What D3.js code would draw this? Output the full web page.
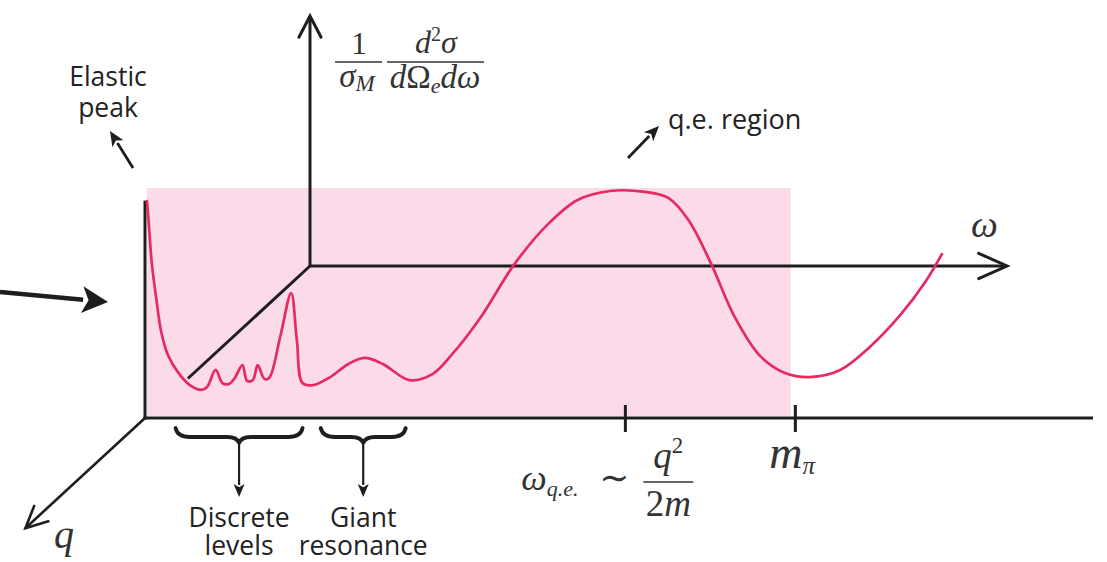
<!DOCTYPE html>
<html>
<head>
<meta charset="utf-8">
<script src="https://cdn.jsdelivr.net/npm/d3@7"></script>
<style>
  html, body { margin: 0; padding: 0; background: #fff; }
  svg { display: block; }
  .sans { font-family: "Open Sans", "Liberation Sans", sans-serif; fill: #222; }
  .math { font-family: "Liberation Serif", "DejaVu Serif", serif; fill: #333; }
</style>
</head>
<body>
<svg id="chart" width="1107" height="562"></svg>
<script>
// Energy transfer ω (arbitrary units) and the inclusive response
// (1/σM) d²σ/dΩe dω at fixed momentum transfer q (arbitrary units)
const omega = [
  0.2, 0.4, 0.7, 1.2, 1.7, 2.4, 3.5, 4.7, 5.9, 6.5,
  7.4, 8.1, 8.8, 9.4, 10.2, 10.7, 11.3, 11.8, 12.5, 13.0,
  14.2, 15.3, 15.9, 16.5, 17.6, 19.4, 21.3, 23.0, 24.9, 27.7,
  30.1, 32.1, 35.1, 38.7, 42.2, 45.3, 48.7, 52.4, 54.8, 56.9,
  59.2, 61.8, 64.4, 67.0, 69.6, 72.8, 75.9, 79.1, 81.7, 83.5
];
const response = [
  94.8, 84.3, 67.8, 51.3, 37.4, 27.4, 19.6, 14.3, 12.2, 13.5,
  20.9, 15.2, 14.8, 17.4, 23.0, 16.1, 16.5, 23.0, 17.0, 17.4,
  36.1, 54.3, 33.9, 15.2, 14.3, 17.8, 23.5, 26.1, 23.5, 16.5,
  19.1, 27.4, 43.5, 67.0, 84.3, 94.8, 98.7, 98.3, 95.7, 86.1,
  67.8, 43.5, 27.0, 19.6, 17.8, 20.9, 30.9, 44.8, 59.1, 71.7
];

// Shaded quasi-elastic band along ω
const bandRange = [0.2, 67.6];

// Marked energies on the ω axis: ω_q.e. ~ q²/2m and the pion mass
const tickValues = [50.3, 68.1];

// Braced low-energy regions
const regionNames = [["Discrete", "levels"], ["Giant", "resonance"]];
const regionFrom = [3.2, 18.4];
const regionTo = [16.5, 27.3];

const svg = d3.select("#chart");
const ink = "#1e1e1e";
const curveColor = "#e62a62";

const x = d3.scaleLinear().domain([0, 100]).range([145, 1100]);
const y = d3.scaleLinear().domain([0, 100]).range([418, 188]);

// depth direction of the pseudo-3D frame (towards the back wall)
const depth = { dx: 165, dy: -152 };
const origin = { x: x(0), y: y(0) };
const back = { x: origin.x + depth.dx, y: origin.y + depth.dy };

function openHead(g, tip, angle, len, spread, width) {
  const a1 = angle + Math.PI - spread, a2 = angle + Math.PI + spread;
  g.append("path")
    .attr("d", `M${tip.x + len * Math.cos(a1)},${tip.y + len * Math.sin(a1)}L${tip.x},${tip.y}L${tip.x + len * Math.cos(a2)},${tip.y + len * Math.sin(a2)}`)
    .attr("fill", "none").attr("stroke", ink).attr("stroke-width", width)
    .attr("stroke-linejoin", "miter").attr("stroke-linecap", "round");
}

function arrow(g, from, to, width, headLen, headHalf) {
  const ang = Math.atan2(to.y - from.y, to.x - from.x);
  const bx = to.x - headLen * Math.cos(ang), by = to.y - headLen * Math.sin(ang);
  g.append("line")
    .attr("x1", from.x).attr("y1", from.y).attr("x2", bx + Math.cos(ang)).attr("y2", by + Math.sin(ang))
    .attr("stroke", ink).attr("stroke-width", width);
  const nx = -Math.sin(ang), ny = Math.cos(ang);
  g.append("path")
    .attr("d", `M${to.x},${to.y}L${bx + nx * headHalf},${by + ny * headHalf}L${bx + 0.25 * headLen * Math.cos(ang)},${by + 0.25 * headLen * Math.sin(ang)}L${bx - nx * headHalf},${by - ny * headHalf}Z`)
    .attr("fill", ink);
}

// shaded band
svg.append("rect")
  .attr("x", x(bandRange[0])).attr("y", y(100))
  .attr("width", x(bandRange[1]) - x(bandRange[0]))
  .attr("height", y(0) - y(100) - 2)
  .attr("fill", "#fbdaea");

const frame = svg.append("g");

// back wall axes
frame.append("line")
  .attr("x1", back.x).attr("y1", back.y).attr("x2", back.x).attr("y2", 16)
  .attr("stroke", ink).attr("stroke-width", 3);
openHead(frame, { x: back.x, y: 16 }, -Math.PI / 2, 24, 0.48, 3);

frame.append("line")
  .attr("x1", back.x).attr("y1", back.y).attr("x2", 1007).attr("y2", back.y)
  .attr("stroke", ink).attr("stroke-width", 3);
openHead(frame, { x: 1007, y: back.y }, 0, 31, 0.42, 3);

// depth line from the back corner towards the front origin
const tDiag = 0.74;
frame.append("line")
  .attr("x1", back.x).attr("y1", back.y)
  .attr("x2", back.x - tDiag * depth.dx).attr("y2", back.y - tDiag * depth.dy)
  .attr("stroke", ink).attr("stroke-width", 3);

// front axes
frame.append("line")
  .attr("x1", origin.x).attr("y1", origin.y + 1.5).attr("x2", origin.x).attr("y2", y(94.5))
  .attr("stroke", ink).attr("stroke-width", 3);
frame.append("line")
  .attr("x1", origin.x - 1.5).attr("y1", origin.y).attr("x2", 1093).attr("y2", origin.y)
  .attr("stroke", ink).attr("stroke-width", 3);

// q axis
const qTip = { x: origin.x - 0.725 * depth.dx, y: origin.y - 0.725 * depth.dy };
frame.append("line")
  .attr("x1", origin.x).attr("y1", origin.y).attr("x2", qTip.x).attr("y2", qTip.y)
  .attr("stroke", ink).attr("stroke-width", 2.6);
openHead(frame, qTip, Math.atan2(-depth.dy, -depth.dx), 24, 0.45, 2.6);

// ticks on the ω axis
frame.selectAll("line.tick").data(tickValues).join("line")
  .attr("class", "tick")
  .attr("x1", d => x(d)).attr("x2", d => x(d))
  .attr("y1", origin.y - 13).attr("y2", origin.y + 14)
  .attr("stroke", ink).attr("stroke-width", 3);

// response curve
const line = d3.line()
  .x(d => x(d[0])).y(d => y(d[1]))
  .curve(d3.curveCatmullRom.alpha(0.5));
svg.append("path")
  .datum(omega.map((w, i) => [w, response[i]]))
  .attr("d", line)
  .attr("fill", "none")
  .attr("stroke", curveColor)
  .attr("stroke-width", 2.7)
  .attr("stroke-linejoin", "round");

// braces under the low-energy regions
const ann = svg.append("g");
function brace(x1, x2, yTop, h) {
  const m = (x1 + x2) / 2, yMid = yTop + h * 0.6, yTip = yTop + h;
  return `M${x1},${yTop}` +
    `Q${x1 + 2},${yMid} ${x1 + 14},${yMid}` +
    `L${m - 12},${yMid}` +
    `Q${m - 2},${yMid} ${m},${yTip}` +
    `Q${m + 2},${yMid} ${m + 12},${yMid}` +
    `L${x2 - 14},${yMid}` +
    `Q${x2 - 2},${yMid} ${x2},${yTop}`;
}
regionNames.forEach((names, i) => {
  const x1 = x(regionFrom[i]), x2 = x(regionTo[i]), m = (x1 + x2) / 2;
  ann.append("path")
    .attr("d", brace(x1, x2, 428, 15))
    .attr("fill", "none").attr("stroke", ink).attr("stroke-width", 3.8)
    .attr("stroke-linecap", "round").attr("stroke-linejoin", "round");
  arrow(ann, { x: m, y: 443 }, { x: m, y: 497 }, 2.2, 13, 5.5);
  ann.append("text").attr("class", "sans")
    .attr("x", m).attr("y", 527).attr("text-anchor", "middle")
    .attr("font-size", 26.5).text(names[0]);
  ann.append("text").attr("class", "sans")
    .attr("x", m).attr("y", 555).attr("text-anchor", "middle")
    .attr("font-size", 26.5).text(names[1]);
});

// text annotations
ann.append("text").attr("class", "sans").attr("x", 108).attr("y", 86)
  .attr("text-anchor", "middle").attr("font-size", 26.5).text("Elastic");
ann.append("text").attr("class", "sans").attr("x", 108).attr("y", 117)
  .attr("text-anchor", "middle").attr("font-size", 26.5).text("peak");
arrow(ann, { x: 133, y: 168 }, { x: 110, y: 131 }, 2.8, 15, 6.5);

ann.append("text").attr("class", "sans").attr("x", 668).attr("y", 129)
  .attr("font-size", 27).text("q.e. region");
arrow(ann, { x: 628, y: 158 }, { x: 659, y: 126 }, 2.8, 15, 6.5);

arrow(ann, { x: 0, y: 292 }, { x: 108, y: 302 }, 4.5, 26, 13.5);

// axis symbols
const math = svg.append("g");
math.append("text").attr("class", "math").attr("x", 971).attr("y", 237)
  .attr("font-size", 38).attr("font-style", "italic").text("ω");
math.append("text").attr("class", "math").attr("x", 54).attr("y", 548)
  .attr("font-size", 40).attr("font-style", "italic").text("q");

// vertical axis title: (1/σ_M) d²σ/(dΩ_e dω)
function hline(x1, x2, yy) {
  math.append("line").attr("x1", x1).attr("x2", x2).attr("y1", yy).attr("y2", yy)
    .attr("stroke", "#333").attr("stroke-width", 1.5);
}
math.append("text").attr("class", "math").attr("x", 359).attr("y", 54)
  .attr("text-anchor", "middle").attr("font-size", 31).text("1");
hline(335, 382, 62);
const sm = math.append("text").attr("class", "math").attr("x", 357).attr("y", 87)
  .attr("text-anchor", "middle").attr("font-size", 33).attr("font-style", "italic");
sm.append("tspan").text("σ");
sm.append("tspan").attr("font-size", 23).attr("dy", 4).text("M");

const num = math.append("text").attr("class", "math").attr("x", 436).attr("y", 53)
  .attr("text-anchor", "middle").attr("font-size", 32);
num.append("tspan").attr("font-style", "italic").text("d");
num.append("tspan").attr("font-size", 20).attr("dy", -12).text("2");
num.append("tspan").attr("font-style", "italic").attr("dy", 12).text("σ");
hline(387, 484, 62);
const den = math.append("text").attr("class", "math").attr("x", 435).attr("y", 88)
  .attr("text-anchor", "middle").attr("font-size", 33);
den.append("tspan").attr("font-style", "italic").text("d");
den.append("tspan").text("Ω");
den.append("tspan").attr("font-style", "italic").attr("font-size", 22).attr("dy", 5).text("e");
den.append("tspan").attr("font-style", "italic").attr("dy", -5).text("dω");

// tick labels
const t1 = math.append("text").attr("class", "math").attr("x", x(tickValues[0]) - 104).attr("y", 490)
  .attr("font-size", 36).attr("font-style", "italic");
t1.append("tspan").text("ω");
t1.append("tspan").attr("font-size", 22).attr("dy", 6).text("q.e.");
math.append("text").attr("class", "math").attr("x", x(tickValues[0]) - 11).attr("y", 490)
  .attr("text-anchor", "middle").attr("font-size", 36).text("∼");
const fq = math.append("text").attr("class", "math").attr("x", x(tickValues[0]) + 43).attr("y", 468)
  .attr("text-anchor", "middle").attr("font-size", 37);
fq.append("tspan").attr("font-style", "italic").text("q");
fq.append("tspan").attr("font-size", 23).attr("dy", -15).text("2");
hline(x(tickValues[0]) + 18, x(tickValues[0]) + 68, 482);
const fm = math.append("text").attr("class", "math").attr("x", x(tickValues[0]) + 43).attr("y", 516)
  .attr("text-anchor", "middle").attr("font-size", 37);
fm.append("tspan").text("2");
fm.append("tspan").attr("font-style", "italic").text("m");

const t2 = math.append("text").attr("class", "math").attr("x", x(tickValues[1]) - 26).attr("y", 468)
  .attr("font-size", 46).attr("font-style", "italic");
t2.append("tspan").text("m");
t2.append("tspan").attr("font-size", 25).attr("dy", 6).text("π");
</script>
</body>
</html>
